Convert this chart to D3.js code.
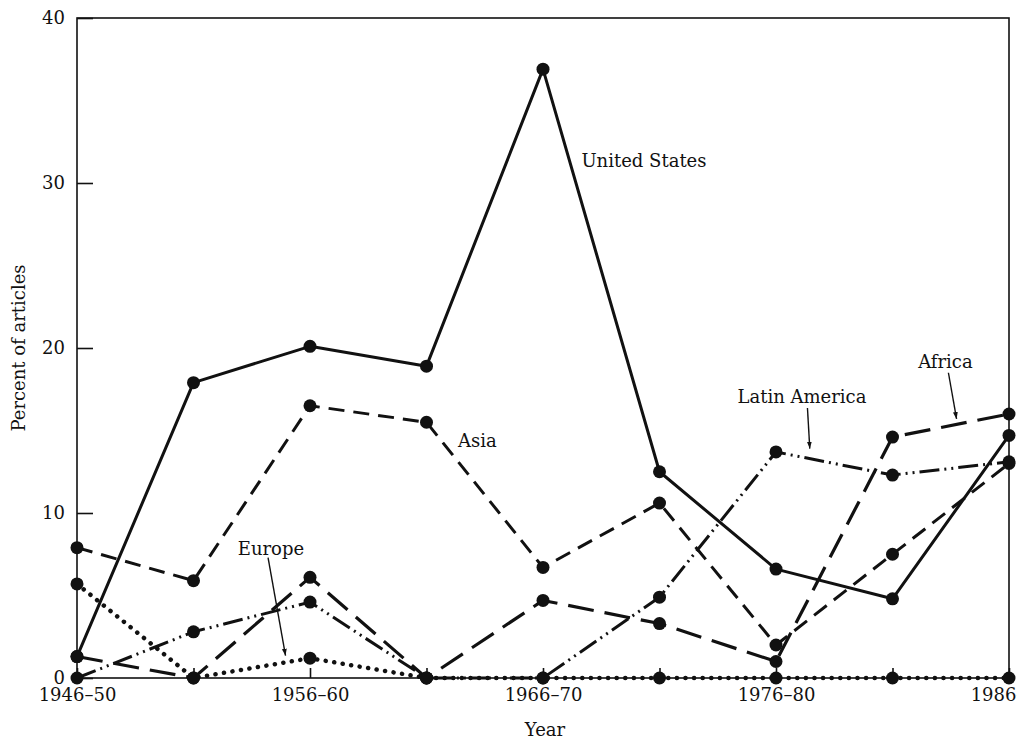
<!DOCTYPE html>
<html>
<head>
<meta charset="utf-8">
<script src="https://cdn.jsdelivr.net/npm/d3@7"></script>
<style>
  html, body { margin: 0; padding: 0; background: #fff; }
  svg { display: block; }
  text { font-family: "DejaVu Serif", "Liberation Serif", serif; fill: #111; }
</style>
</head>
<body>
<svg id="chart" width="1017" height="739"></svg>
<script>
// ---- Data ----
const periods = ["1946–50", "1951–55", "1956–60", "1961–65", "1966–70", "1971–75", "1976–80", "1981–85", "1986–90"];
const tickLabelsX = ["1946–50", "", "1956–60", "", "1966–70", "", "1976–80", "", "1986–90"];
const tickValuesY = [0, 10, 20, 30, 40];

const unitedStates  = [1.3, 17.9, 20.1, 18.9, 36.9, 12.5, 6.6, 4.8, 14.7];
const asia          = [7.9, 5.9, 16.5, 15.5, 6.7, 10.6, 2.0, 7.5, 13.0];
const africa        = [1.3, 0.0, 6.1, 0.0, 4.7, 3.3, 1.0, 14.6, 16.0];
const latinAmerica  = [0.0, 2.8, 4.6, 0.0, 0.0, 4.9, 13.7, 12.3, 13.1];
const europe        = [5.7, 0.0, 1.2, 0.0, 0.0, 0.0, 0.0, 0.0, 0.0];

// Labels placed in data space: [periodIndex, value]
const labelNames = ["United States", "Asia", "Europe", "Latin America", "Africa"];
const labelPos   = [[4.33, 31.0], [3.27, 14.0], [1.38, 7.45], [5.67, 16.67], [7.22, 18.8]];
// Arrows in data space: [fromIndex, fromValue, toIndex, toValue]
const arrows = [[1.64, 7.3, 1.79, 1.35], [6.27, 16.36, 6.29, 13.9], [7.48, 18.5, 7.55, 15.7]];

// ---- Layout ----
const svg = d3.select("#chart");
const mLeft = 77, mRight = 1009, mTop = 18, mBottom = 678;
const x = d3.scaleLinear().domain([0, periods.length - 1]).range([mLeft, mRight]);
const y = d3.scaleLinear().domain([0, 40]).range([mBottom, mTop]);

// frame
svg.append("rect")
  .attr("x", mLeft).attr("y", mTop)
  .attr("width", mRight - mLeft).attr("height", mBottom - mTop)
  .attr("fill", "none").attr("stroke", "#111").attr("stroke-width", 1.6);

// y axis
const yAxis = svg.append("g")
  .attr("transform", `translate(${mLeft},0)`)
  .call(d3.axisLeft(y).tickValues(tickValuesY).tickSize(-16).tickPadding(12).tickFormat(d3.format("d")));
yAxis.select(".domain").remove();
yAxis.selectAll("line").attr("stroke", "#111").attr("stroke-width", 1.6);
yAxis.selectAll("text").style("font-size", "18px").attr("fill", "#111");

// x axis
const xAxis = svg.append("g")
  .attr("transform", `translate(0,${mBottom})`)
  .call(d3.axisBottom(x).tickValues(d3.range(periods.length)).tickSize(-10).tickPadding(10)
        .tickFormat((d, i) => tickLabelsX[i]));
xAxis.select(".domain").remove();
xAxis.selectAll("line").attr("stroke", "#111").attr("stroke-width", 1.6);
xAxis.selectAll("text").style("font-size", "18px").attr("fill", "#111");

// axis titles
svg.append("text")
  .attr("x", 545).attr("y", 736)
  .attr("text-anchor", "middle").style("font-size", "18px")
  .text("Year");
svg.append("text")
  .attr("transform", "translate(25,348) rotate(-90)")
  .attr("text-anchor", "middle").style("font-size", "18px")
  .text("Percent of articles");

// ---- Series ----
const series = [
  { name: "Europe", values: europe, dash: "0.1 8.5", width: 4.5, cap: "round" },
  { name: "Latin America", values: latinAmerica, dash: "20 5 2 5 2 5", width: 3, cap: "butt" },
  { name: "Africa", values: africa, dash: "26 11", width: 3.2, cap: "butt" },
  { name: "Asia", values: asia, dash: "16 9", width: 3, cap: "butt" },
  { name: "United States", values: unitedStates, dash: null, width: 3, cap: "butt" }
];

const line = d3.line().x((d, i) => x(i)).y(d => y(d));

series.forEach(s => {
  svg.append("path")
    .datum(s.values)
    .attr("d", line)
    .attr("fill", "none")
    .attr("stroke", "#111")
    .attr("stroke-width", s.width)
    .attr("stroke-linecap", s.cap)
    .attr("stroke-linejoin", "round")
    .attr("stroke-dasharray", s.dash);
});

series.forEach(s => {
  svg.append("g").selectAll("circle")
    .data(s.values)
    .join("circle")
    .attr("cx", (d, i) => x(i))
    .attr("cy", d => y(d))
    .attr("r", 6.5)
    .attr("fill", "#111");
});

// ---- Annotations ----
labelNames.forEach((t, i) => {
  svg.append("text")
    .attr("x", x(labelPos[i][0])).attr("y", y(labelPos[i][1]))
    .style("font-size", "18px")
    .text(t);
});

const defs = svg.append("defs");
defs.append("marker")
  .attr("id", "ah").attr("viewBox", "0 0 10 10")
  .attr("refX", 10).attr("refY", 5)
  .attr("markerWidth", 7).attr("markerHeight", 7)
  .attr("markerUnits", "userSpaceOnUse")
  .attr("orient", "auto")
  .append("path").attr("d", "M0,1.5 L10,5 L0,8.5 Z").attr("fill", "#111");

arrows.forEach(a => {
  svg.append("line")
    .attr("x1", x(a[0])).attr("y1", y(a[1]))
    .attr("x2", x(a[2])).attr("y2", y(a[3]))
    .attr("stroke", "#111").attr("stroke-width", 1.4)
    .attr("marker-end", "url(#ah)");
});
</script>
</body>
</html>
